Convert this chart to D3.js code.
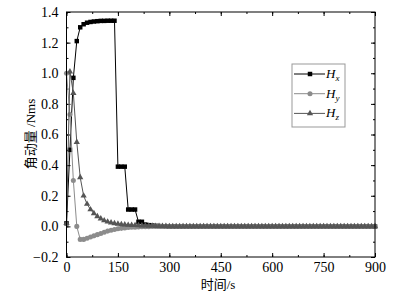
<!DOCTYPE html>
<html>
<head>
<meta charset="utf-8">
<script src="https://cdn.jsdelivr.net/npm/d3@7"></script>
<style>
  body { margin: 0; background: #fff; }
  text { font-family: "Liberation Serif", "Noto Sans CJK SC", serif; }
</style>
</head>
<body>
<script>
const w = 402;
const h = 294;
const margin = { top: 12, right: 27, bottom: 37, left: 66.5 };

// sample times, every 10 s
const time = d3.range(0, 901, 10);

// values, 0..900 s
const hx = [
  0.02, 0.50, 0.97, 1.21, 1.30, 1.32, 1.33, 1.335, 1.338, 1.34,
  1.342, 1.342, 1.343, 1.343, 1.343, 0.39, 0.39, 0.39, 0.11, 0.11,
  0.11, 0.03, 0.03, 0.012, 0.008, 0.005, 0.003, 0.002, 0.001, 0,
  0, 0, 0, 0, 0, 0, 0, 0, 0, 0,
  0, 0, 0, 0, 0, 0, 0, 0, 0, 0,
  0, 0, 0, 0, 0, 0, 0, 0, 0, 0,
  0, 0, 0, 0, 0, 0, 0, 0, 0, 0,
  0, 0, 0, 0, 0, 0, 0, 0, 0, 0,
  0, 0, 0, 0, 0, 0, 0, 0, 0, 0,
  0
];
const hy = [
  1.0, 0.73, 0.30, 0.0, -0.085, -0.085, -0.078, -0.07, -0.062, -0.054,
  -0.046, -0.038, -0.031, -0.025, -0.02, -0.016, -0.013, -0.01, -0.008, -0.006,
  -0.005, -0.004, -0.003, -0.002, -0.002, -0.001, -0.001, 0, 0, 0,
  0, 0, 0, 0, 0, 0, 0, 0, 0, 0,
  0, 0, 0, 0, 0, 0, 0, 0, 0, 0,
  0, 0, 0, 0, 0, 0, 0, 0, 0, 0,
  0, 0, 0, 0, 0, 0, 0, 0, 0, 0,
  0, 0, 0, 0, 0, 0, 0, 0, 0, 0,
  0, 0, 0, 0, 0, 0, 0, 0, 0, 0,
  0
];
const hz = [
  0.02, 1.01, 0.87, 0.55, 0.32, 0.20, 0.146, 0.11, 0.085, 0.065,
  0.05, 0.038, 0.03, 0.024, 0.019, 0.016, 0.013, 0.011, 0.009, 0.008,
  0.007, 0.006, 0.005, 0.004, 0.003, 0.003, 0.002, 0.002, 0.001, 0.001,
  0, 0, 0, 0, 0, 0, 0, 0, 0, 0,
  0, 0, 0, 0, 0, 0, 0, 0, 0, 0,
  0, 0, 0, 0, 0, 0, 0, 0, 0, 0,
  0, 0, 0, 0, 0, 0, 0, 0, 0, 0,
  0, 0, 0, 0, 0, 0, 0, 0, 0, 0,
  0, 0, 0, 0, 0, 0, 0, 0, 0, 0,
  0
];

const xTicks = [0, 150, 300, 450, 600, 750, 900];
const yTicks = [-0.2, 0.0, 0.2, 0.4, 0.6, 0.8, 1.0, 1.2, 1.4];

const series = [
  { name: "x", values: hx, color: "#000", symbol: d3.symbolSquare, size: 20 },
  { name: "y", values: hy, color: "#8c8c8c", symbol: d3.symbolCircle, size: 20 },
  { name: "z", values: hz, color: "#555", symbol: d3.symbolTriangle, size: 17 },
];

const svg = d3.select("body").append("svg").attr("width", w).attr("height", h);

const x = d3.scaleLinear().domain([0, 900]).range([margin.left, w - margin.right]);
const y = d3.scaleLinear().domain([-0.2, 1.4]).range([h - margin.bottom, margin.top]);

const fmtY = (d) => d3.format(".1f")(d).replace("-", "\u2212");

// axes, ticks inward, mirrored on top/right
const xMinor = d3.range(0, 901, 75);
const yMinor = d3.range(-0.2, 1.41, 0.1);

svg.append("g")
  .attr("transform", `translate(0,${h - margin.bottom})`)
  .call(d3.axisBottom(x).tickValues(xMinor).tickSize(-2).tickFormat(""))
  .call((g) => g.select(".domain").remove());
svg.append("g")
  .attr("transform", `translate(0,${h - margin.bottom})`)
  .call(d3.axisBottom(x).tickValues(xTicks).tickSize(-4).tickPadding(5))
  .call((g) => g.select(".domain").remove())
  .call((g) => g.selectAll("text").attr("font-size", 14).attr("font-family", "Liberation Serif"));
svg.append("g")
  .attr("transform", `translate(0,${margin.top})`)
  .call(d3.axisTop(x).tickValues(xMinor).tickSize(-2).tickFormat(""))
  .call((g) => g.select(".domain").remove());
svg.append("g")
  .attr("transform", `translate(0,${margin.top})`)
  .call(d3.axisTop(x).tickValues(xTicks).tickSize(-4).tickFormat(""))
  .call((g) => g.select(".domain").remove());

svg.append("g")
  .attr("transform", `translate(${margin.left},0)`)
  .call(d3.axisLeft(y).tickValues(yMinor).tickSize(-2).tickFormat(""))
  .call((g) => g.select(".domain").remove());
svg.append("g")
  .attr("transform", `translate(${margin.left},0)`)
  .call(d3.axisLeft(y).tickValues(yTicks).tickSize(-4).tickPadding(8).tickFormat(fmtY))
  .call((g) => g.select(".domain").remove())
  .call((g) => g.selectAll("text").attr("font-size", 14).attr("font-family", "Liberation Serif"));
svg.append("g")
  .attr("transform", `translate(${w - margin.right},0)`)
  .call(d3.axisRight(y).tickValues(yMinor).tickSize(-2).tickFormat(""))
  .call((g) => g.select(".domain").remove());
svg.append("g")
  .attr("transform", `translate(${w - margin.right},0)`)
  .call(d3.axisRight(y).tickValues(yTicks).tickSize(-4).tickFormat(""))
  .call((g) => g.select(".domain").remove());

// lines and markers
const line = d3.line().x((d, i) => x(time[i])).y((d) => y(d));

series.forEach((s) => {
  svg.append("path")
    .datum(s.values)
    .attr("fill", "none")
    .attr("stroke", s.color)
    .attr("stroke-width", 1)
    .attr("d", line);
  svg.append("g")
    .selectAll("path")
    .data(s.values)
    .join("path")
    .attr("transform", (d, i) => `translate(${x(time[i])},${y(d)})`)
    .attr("d", d3.symbol(s.symbol, s.size))
    .attr("fill", s.color);
});

// frame
svg.append("rect")
  .attr("x", margin.left)
  .attr("y", margin.top)
  .attr("width", w - margin.left - margin.right)
  .attr("height", h - margin.top - margin.bottom)
  .attr("fill", "none")
  .attr("stroke", "#000")
  .attr("stroke-width", 1);

// axis titles
svg.append("text")
  .attr("x", 218)
  .attr("y", 289)
  .attr("text-anchor", "middle")
  .attr("font-size", 13)
  .text("时间/s");

svg.append("text")
  .attr("transform", "translate(35,134) rotate(-90)")
  .attr("text-anchor", "middle")
  .attr("font-size", 13)
  .text("角动量 /Nms");

// legend
const lg = svg.append("g").attr("transform", "translate(292,64)");
lg.append("rect")
  .attr("width", 53)
  .attr("height", 63)
  .attr("fill", "#fff")
  .attr("stroke", "#999");

series.forEach((s, i) => {
  const yy = 10 + i * 19.7;
  lg.append("line")
    .attr("x1", 2).attr("x2", 33)
    .attr("y1", yy).attr("y2", yy)
    .attr("stroke", s.color);
  lg.append("path")
    .attr("transform", `translate(18,${yy})`)
    .attr("d", d3.symbol(s.symbol, s.size))
    .attr("fill", s.color);
  const t = lg.append("text")
    .attr("x", 34)
    .attr("y", yy + 4)
    .attr("font-size", 13)
    .attr("font-style", "italic");
  t.append("tspan").text("H");
  t.append("tspan").attr("font-size", 9).attr("dy", 3).text(s.name);
});
</script>
</body>
</html>
